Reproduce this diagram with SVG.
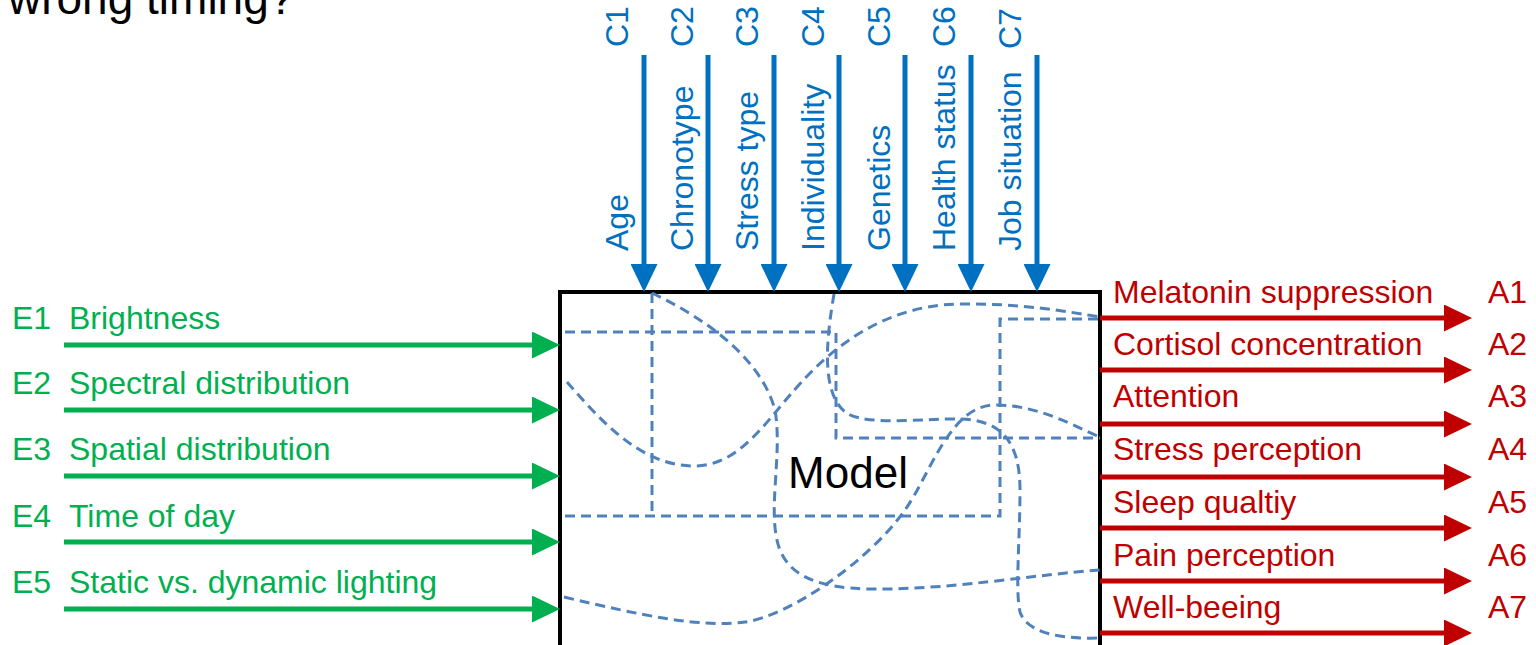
<svg xmlns="http://www.w3.org/2000/svg" width="1536" height="645" viewBox="0 0 1536 645">
<style>
text{font-family:"Liberation Sans",Arial,sans-serif;font-size:32px}
.g{fill:#00B050}.r{fill:#C00000}.b{fill:#0070C0}
.ag{stroke:#00B050;stroke-width:5;fill:none;marker-end:url(#mg)}
.ar{stroke:#C00000;stroke-width:5;fill:none;marker-end:url(#mr)}
.ab{stroke:#0070C0;stroke-width:5;fill:none;marker-end:url(#mb)}
.d{stroke:#4F81BD;stroke-width:3;fill:none;stroke-dasharray:10 6}
</style>
<defs>
<marker id="mg" markerUnits="userSpaceOnUse" viewBox="0 0 28 27" markerWidth="28" markerHeight="27" refX="11" refY="13.5" orient="auto"><path d="M0,0L28,13.5L0,27z" fill="#00B050"/></marker>
<marker id="mr" markerUnits="userSpaceOnUse" viewBox="0 0 28 27" markerWidth="28" markerHeight="27" refX="11" refY="13.5" orient="auto"><path d="M0,0L28,13.5L0,27z" fill="#C00000"/></marker>
<marker id="mb" markerUnits="userSpaceOnUse" viewBox="0 0 28 27" markerWidth="28" markerHeight="27" refX="11" refY="13.5" orient="auto"><path d="M0,0L28,13.5L0,27z" fill="#0070C0"/></marker>
</defs>
<rect width="1536" height="645" fill="#fff"/>
<text x="8" y="14" style="font-size:46px" fill="#000">wrong timing?</text>

<g id="model">
<rect x="560" y="292" width="540" height="400" fill="none" stroke="#000" stroke-width="4"/>
<path class="d" d="M565,332H836V438H1100"/>
<path class="d" d="M652,293V516"/>
<path class="d" d="M565,516H1000V319H1100"/>
<path class="d" d="M652,293C700,316 760,355 775,410C782,450 770,500 776,535C782,575 815,588 870,589C950,590 1030,575 1100,570"/>
<path class="d" d="M567,382C600,420 640,465 692,466C735,467 760,430 790,395C815,366 870,305 960,304C1020,303 1070,312 1100,317"/>
<path class="d" d="M834,294C828,330 818,395 848,414C870,426 930,418 960,419C1000,420 1020,440 1020,490C1020,540 1015,590 1020,612C1028,636 1070,639 1100,638"/>
<path class="d" d="M564,597C640,615 700,628 745,622C790,616 870,560 905,510C930,475 950,405 995,405C1040,405 1075,427 1100,437"/>
<text x="848" y="488" text-anchor="middle" style="font-size:44px" fill="#000">Model</text>
</g>

<g id="inputs">
<g id="E1"><text class="g" x="12" y="329">E1</text><text class="g" x="69" y="329">Brightness</text></g>
<g id="E2"><text class="g" x="12" y="394">E2</text><text class="g" x="69" y="394">Spectral distribution</text></g>
<g id="E3"><text class="g" x="12" y="460">E3</text><text class="g" x="69" y="460">Spatial distribution</text></g>
<g id="E4"><text class="g" x="12" y="527">E4</text><text class="g" x="69" y="527">Time of day</text></g>
<g id="E5"><text class="g" x="12" y="593">E5</text><text class="g" x="69" y="593">Static vs. dynamic lighting</text></g>
</g>

<g id="conditions">
<g id="C1"><text class="b" transform="translate(628,47) rotate(-90)">C1</text><text class="b" transform="translate(628,251) rotate(-90)">Age</text></g>
<g id="C2"><text class="b" transform="translate(693,47) rotate(-90)">C2</text><text class="b" transform="translate(693,251) rotate(-90)">Chronotype</text></g>
<g id="C3"><text class="b" transform="translate(758,47) rotate(-90)">C3</text><text class="b" transform="translate(758,251) rotate(-90)">Stress type</text></g>
<g id="C4"><text class="b" transform="translate(824,47) rotate(-90)">C4</text><text class="b" transform="translate(824,251) rotate(-90)">Individuality</text></g>
<g id="C5"><text class="b" transform="translate(890,47) rotate(-90)">C5</text><text class="b" transform="translate(890,251) rotate(-90)">Genetics</text></g>
<g id="C6"><text class="b" transform="translate(955,47) rotate(-90)">C6</text><text class="b" transform="translate(955,251) rotate(-90)">Health status</text></g>
<g id="C7"><text class="b" transform="translate(1021,49) rotate(-90)">C7</text><text class="b" transform="translate(1021,251) rotate(-90)">Job situation</text></g>
</g>

<g id="outputs">
<g id="A1"><text class="r" x="1113" y="303">Melatonin suppression</text><text class="r" x="1488" y="303">A1</text></g>
<g id="A2"><text class="r" x="1113" y="355">Cortisol concentration</text><text class="r" x="1488" y="355">A2</text></g>
<g id="A3"><text class="r" x="1113" y="407">Attention</text><text class="r" x="1488" y="407">A3</text></g>
<g id="A4"><text class="r" x="1113" y="460">Stress perception</text><text class="r" x="1488" y="460">A4</text></g>
<g id="A5"><text class="r" x="1113" y="513">Sleep qualtiy</text><text class="r" x="1488" y="513">A5</text></g>
<g id="A6"><text class="r" x="1113" y="566">Pain perception</text><text class="r" x="1488" y="566">A6</text></g>
<g id="A7"><text class="r" x="1113" y="618">Well-beeing</text><text class="r" x="1488" y="618">A7</text></g>
</g>

<g id="connectors">
<path class="ag" d="M64,345H543"/>
<path class="ag" d="M64,410H543"/>
<path class="ag" d="M64,476H543"/>
<path class="ag" d="M64,542H543"/>
<path class="ag" d="M64,609H543"/>
<path class="ab" d="M644,55V275"/>
<path class="ab" d="M708,55V275"/>
<path class="ab" d="M774,55V275"/>
<path class="ab" d="M839,55V275"/>
<path class="ab" d="M905,55V275"/>
<path class="ab" d="M971,55V275"/>
<path class="ab" d="M1037,55V275"/>
<path class="ar" d="M1100,318H1455"/>
<path class="ar" d="M1100,370H1455"/>
<path class="ar" d="M1100,424H1455"/>
<path class="ar" d="M1100,477H1455"/>
<path class="ar" d="M1100,528H1455"/>
<path class="ar" d="M1100,581H1455"/>
<path class="ar" d="M1100,633H1455"/>
</g>
</svg>
